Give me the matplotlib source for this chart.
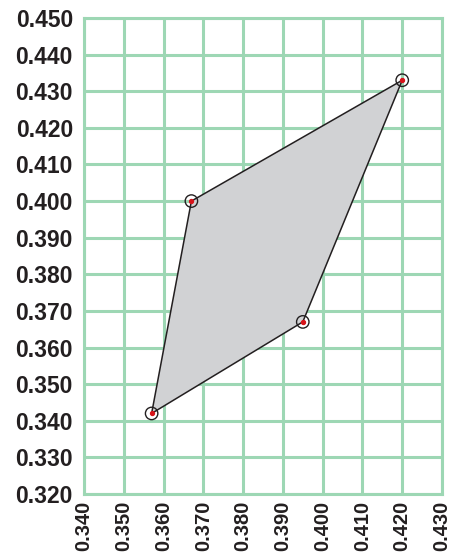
import matplotlib
matplotlib.use("Agg")
import matplotlib.pyplot as plt
import numpy as np

# polygon corners (x, y)
px = [0.357, 0.367, 0.420, 0.395]
py = [0.342, 0.400, 0.433, 0.367]

x_ticks = [0.340, 0.350, 0.360, 0.370, 0.380, 0.390, 0.400, 0.410, 0.420, 0.430]
y_ticks = [0.320, 0.330, 0.340, 0.350, 0.360, 0.370, 0.380, 0.390, 0.400,
           0.410, 0.420, 0.430, 0.440, 0.450]

grid_col = '#9dd7b4'

plt.rcParams['font.family'] = ['Liberation Sans', 'DejaVu Sans']

fig = plt.figure(figsize=(4.51, 5.56), dpi=100)
ax = fig.add_axes([84 / 451, 1 - 494 / 556, (442 - 84) / 451, (494 - 18) / 556])

ax.fill(px, py, facecolor='#d1d2d4', edgecolor='#231f20', linewidth=1.1, zorder=3)
ax.scatter(px, py, s=80, facecolors='none', edgecolors='#231f20', linewidths=1.0, zorder=4)
ax.scatter(px, py, s=8, color='#d7141a', zorder=5)

ax.set_xlim(0.340, 0.430)
ax.set_ylim(0.320, 0.450)
ax.set_xticks(x_ticks)
ax.set_yticks(y_ticks)
ax.set_xticklabels([f'{v:.3f}' for v in x_ticks], rotation=90, fontsize=14.5, fontweight='bold', color='#231f20')
ax.set_yticklabels([f'{v:.3f}' for v in y_ticks], fontsize=16.5, fontweight='bold', color='#231f20')
ax.tick_params(axis='y', length=0, pad=8)
ax.tick_params(axis='x', length=0, pad=5)
ax.grid(True, color=grid_col, linewidth=2.2, zorder=0)
ax.set_axisbelow(True)
for s in ax.spines.values():
    s.set_color(grid_col)
    s.set_linewidth(2.2)

fig.savefig('out.png', dpi=100)
